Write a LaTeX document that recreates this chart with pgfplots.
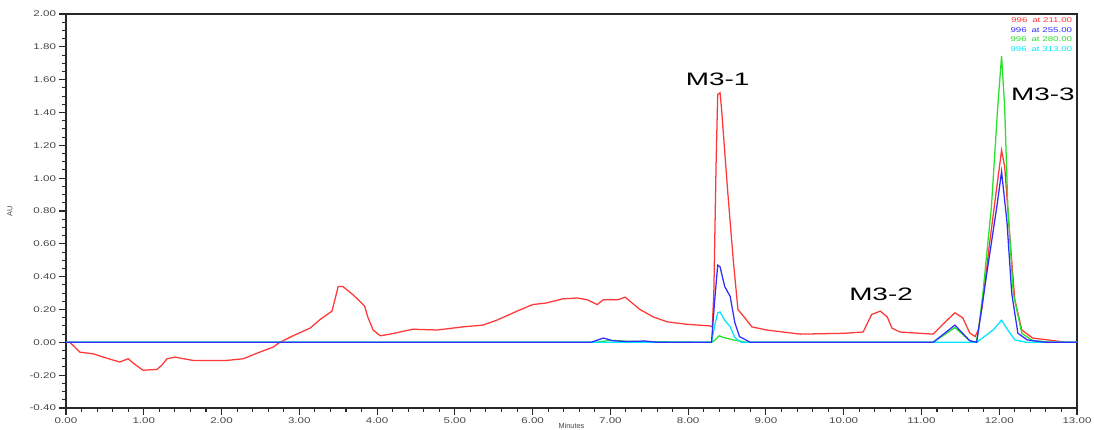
\documentclass[border=0pt]{standalone}
\usepackage{pgfplots}
\pgfplotsset{compat=1.18}
\usepackage{graphicx}
\usepackage{fontspec}
\setmainfont{Liberation Sans}
\definecolor{cR}{RGB}{255,55,55}
\definecolor{cB}{RGB}{45,45,255}
\definecolor{cG}{RGB}{40,225,40}
\definecolor{cC}{RGB}{0,230,255}
\definecolor{axc}{RGB}{40,40,40}
\definecolor{tlc}{RGB}{70,70,70}
\begin{document}
\begin{tikzpicture}
\begin{axis}[
  scale only axis,
  width=758.25pt, height=295.5pt,
  xmin=0, xmax=13, ymin=-0.4, ymax=2,
  xtick={0,1,...,13},
  ytick={-0.4,-0.2,0,0.2,0.4,0.6,0.8,1.0,1.2,1.4,1.6,1.8,2.0},
  minor x tick num=4,
  minor y tick num=3,
  xtick pos=bottom, ytick pos=left,
  tick align=outside,
  major tick length=5pt, minor tick length=3pt,
  axis line style={axc, line width=1.1pt},
  every tick/.style={axc, line width=0.8pt},
  /pgf/number format/assume math mode=true,
  xticklabel={\scalebox{1.4}[1]{\pgfmathprintnumber[fixed,fixed zerofill,precision=2]{\tick}}},
  yticklabel={\scalebox{1.4}[1]{\pgfmathprintnumber[fixed,fixed zerofill,precision=2]{\tick}}},
  ticklabel style={font=\fontsize{6.2}{7}\selectfont, text=tlc},
  xticklabel style={yshift=1pt},
  yticklabel style={xshift=1pt},
  xlabel={Minutes},
  ylabel={AU},
  xlabel style={font=\fontsize{5.5}{6}\selectfont, text=tlc, at={(axis description cs:0.5,0)}, anchor=north, yshift=-8pt},
  ylabel style={font=\fontsize{5.5}{6}\selectfont, text=tlc, at={(axis description cs:-0.0554,0.5)}, anchor=center},
  clip=false,
]
\coordinate (O) at (rel axis cs:0,0);
\addplot[cR, line width=0.95pt] coordinates {
(0,0) (0.05,0) (0.18,-0.06) (0.35,-0.07) (0.48,-0.09) (0.69,-0.12) (0.80,-0.10) (0.86,-0.125) (0.99,-0.17) (1.17,-0.165) (1.23,-0.14) (1.30,-0.10) (1.40,-0.09) (1.63,-0.11) (2.07,-0.11) (2.28,-0.10) (2.49,-0.06) (2.66,-0.03) (2.75,0) (2.92,0.04) (3.14,0.087) (3.27,0.14) (3.42,0.19) (3.50,0.34) (3.56,0.34) (3.69,0.29) (3.80,0.24) (3.84,0.22) (3.88,0.155) (3.95,0.075) (4.04,0.04) (4.17,0.05) (4.46,0.08) (4.77,0.075) (5.10,0.094) (5.36,0.105) (5.54,0.135) (5.80,0.19) (6.00,0.23) (6.18,0.24) (6.39,0.265) (6.57,0.27) (6.70,0.26) (6.83,0.23) (6.91,0.26) (7.10,0.26) (7.19,0.275) (7.38,0.20) (7.55,0.155) (7.73,0.125) (7.98,0.11) (8.28,0.10) (8.31,0.094) (8.33,0.30) (8.36,1.11) (8.38,1.51) (8.41,1.52) (8.43,1.42) (8.45,1.29) (8.51,0.91) (8.58,0.50) (8.64,0.20) (8.73,0.148) (8.82,0.094) (9.01,0.075) (9.44,0.05) (10.0,0.055) (10.25,0.063) (10.36,0.17) (10.47,0.19) (10.56,0.155) (10.62,0.087) (10.72,0.063) (11.15,0.05) (11.33,0.135) (11.43,0.18) (11.53,0.15) (11.62,0.058) (11.69,0.035) (11.73,0.075) (11.78,0.215) (11.88,0.62) (11.97,0.95) (12.03,1.17) (12.07,1.07) (12.14,0.62) (12.20,0.26) (12.29,0.075) (12.43,0.026) (12.87,0) (13,0)
};
\addplot[cG, line width=0.95pt] coordinates {
(0,0) (6.8,0) (7.0,0.012) (7.3,0.005) (8.30,0) (8.34,0.012) (8.40,0.04) (8.45,0.03) (8.58,0.015) (8.75,0) (11.15,0) (11.43,0.09) (11.62,0.01) (11.70,0.0) (11.73,0.06) (11.79,0.30) (11.90,0.83) (11.98,1.43) (12.03,1.745) (12.07,1.43) (12.11,0.83) (12.18,0.30) (12.29,0.055) (12.43,0.01) (12.7,0) (13,0)
};
\addplot[cC, line width=0.95pt] coordinates {
(0,0) (8.30,0) (8.34,0.10) (8.38,0.18) (8.41,0.185) (8.47,0.135) (8.54,0.095) (8.60,0.03) (8.68,0) (11.71,0) (11.92,0.075) (12.03,0.135) (12.11,0.075) (12.20,0.015) (12.35,0) (13,0)
};
\addplot[cB, line width=0.95pt] coordinates {
(0,0) (6.75,0) (6.91,0.026) (7.03,0.01) (7.2,0.005) (7.45,0.008) (7.6,0) (8.30,0) (8.34,0.25) (8.38,0.47) (8.41,0.46) (8.47,0.34) (8.54,0.28) (8.60,0.12) (8.66,0.035) (8.80,0) (11.15,0) (11.43,0.105) (11.62,0.01) (11.71,0) (11.84,0.42) (11.97,0.83) (12.03,1.04) (12.10,0.73) (12.16,0.30) (12.24,0.055) (12.36,0.015) (12.6,0) (13,0)
};
\node[font=\fontsize{13.5}{15}\selectfont] at (axis cs:8.38,1.605) {\scalebox{1.55}[1]{M3-1}};
\node[font=\fontsize{13.5}{15}\selectfont] at (axis cs:10.48,0.29) {\scalebox{1.55}[1]{M3-2}};
\node[font=\fontsize{13.5}{15}\selectfont] at (axis cs:12.56,1.51) {\scalebox{1.55}[1]{M3-3}};
\node[anchor=east, inner sep=0pt, text=cR, font=\fontsize{5.2}{6}\selectfont] at (axis cs:12.94,1.965) {\scalebox{1.4}[1]{996\enspace at 211.00}};
\node[anchor=east, inner sep=0pt, text=cB, font=\fontsize{5.2}{6}\selectfont] at (axis cs:12.94,1.904) {\scalebox{1.4}[1]{996\enspace at 255.00}};
\node[anchor=east, inner sep=0pt, text=cG, font=\fontsize{5.2}{6}\selectfont] at (axis cs:12.94,1.849) {\scalebox{1.4}[1]{996\enspace at 280.00}};
\node[anchor=east, inner sep=0pt, text=cC, font=\fontsize{5.2}{6}\selectfont] at (axis cs:12.94,1.789) {\scalebox{1.4}[1]{996\enspace at 313.00}};
\end{axis}
\pgfresetboundingbox
\useasboundingbox ([shift={(-49.5pt,-15.75pt)}]O) rectangle ([shift={(771pt,306pt)}]O);
\end{tikzpicture}
\end{document}
